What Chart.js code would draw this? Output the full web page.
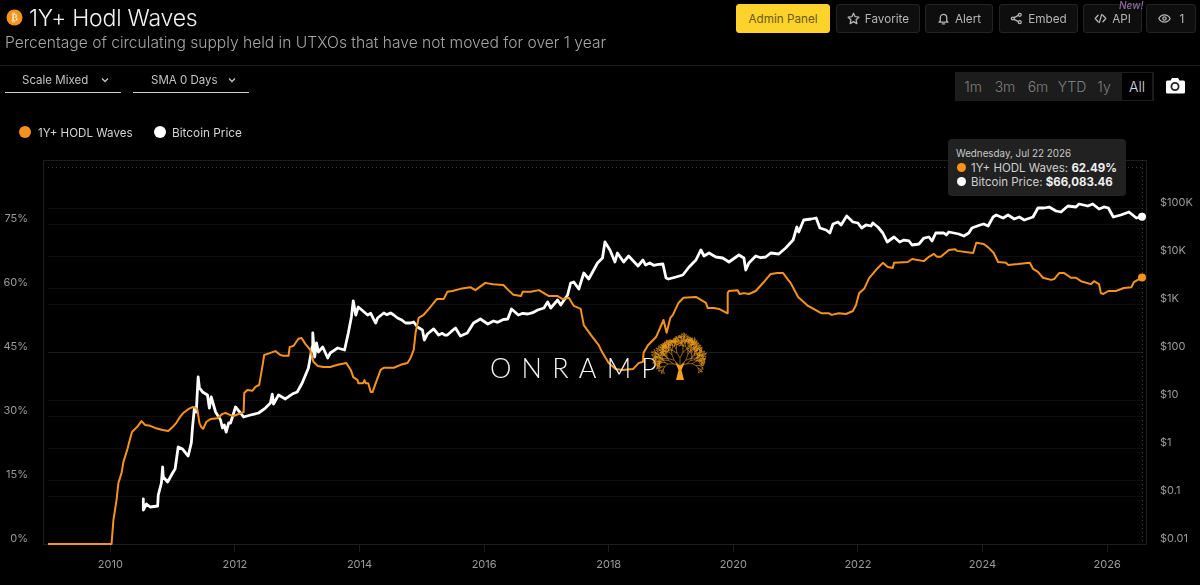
<!DOCTYPE html>
<html>
<head>
<meta charset="utf-8">
<title>1Y+ Hodl Waves</title>
<script src="https://cdn.jsdelivr.net/npm/chart.js@4/dist/chart.umd.min.js"></script>
<style>
  html, body { margin: 0; background: #000; width: 1200px; height: 585px; overflow: hidden; font-family: Inter, sans-serif; color: #fff; }
  #mainChart { position: absolute; left: 0; top: 0; }
  .abs { position: absolute; white-space: nowrap; }
  .btn { position: absolute; top: 4px; height: 27px; border: 1px solid #232323; border-radius: 3px; background: #0e0e0e; color: #b5b5b5; font-size: 11.7px; display: flex; align-items: center; justify-content: center; gap: 5px; box-sizing: content-box; }
  .btn svg { width: 13px; height: 13px; fill: none; stroke: #b5b5b5; stroke-width: 1.6; stroke-linecap: round; stroke-linejoin: round; }
  .select { position: absolute; top: 66px; height: 26px; width: 116px; border-bottom: 1px solid #cfcfcf; font-size: 11.5px; color: #c4c4c4; line-height: 27px; }
  .select span { position: absolute; top: 1px; }
  .select svg { position: absolute; top: 11px; width: 8px; height: 6px; fill: none; stroke: #c4c4c4; stroke-width: 1.3; }
  .range span { position: absolute; top: 0; height: 28px; line-height: 29px; color: #7f7f7f; font-size: 14px; text-align: center; font-weight: 300; }
  .dot { position: absolute; border-radius: 50%; }
</style>
</head>
<body>
<canvas id="mainChart" width="1200" height="585"></canvas>

<!-- header -->
<svg class="abs" style="left:5px;top:8px" width="19" height="19" viewBox="0 0 19 19"><circle cx="9.5" cy="9.5" r="8" fill="#f7931a"/><text x="9.5" y="13" font-size="10" font-weight="700" text-anchor="middle" fill="#ffe3bd" font-family="DejaVu Sans">₿</text></svg>
<div class="abs" style="left:29px;top:2px;font-size:23px;font-weight:300;line-height:32px;color:#f2f2f2;letter-spacing:-0.2px">1Y+ Hodl Waves</div>
<div class="abs" style="left:5px;top:32px;font-size:15.6px;font-weight:300;line-height:22px;color:#a6a6a6">Percentage of circulating supply held in UTXOs that have not moved for over 1 year</div>
<div class="abs" style="left:0;top:65px;width:1200px;height:1px;background:#1b1b1b"></div>

<div class="btn" style="left:736px;width:92px;background:#fdd22b;border-color:#fdd22b;color:#6b5a12;border-radius:3px">Admin Panel</div>
<div class="btn" style="left:836px;width:82px"><svg viewBox="0 0 16 16"><path d="M8 1.5l2 4.3 4.6.6-3.4 3.2.9 4.7L8 11.9l-4.1 2.4.9-4.7L1.400 6.4 6 5.800z"/></svg>Favorite</div>
<div class="btn" style="left:925px;width:66px"><svg viewBox="0 0 16 16"><path d="M4 11V7a4 4 0 0 1 8 0v4l1.500 1.500h-11zM6.500 14.500h3"/></svg>Alert</div>
<div class="btn" style="left:999px;width:77px"><svg viewBox="0 0 16 16"><circle cx="12" cy="3.500" r="1.800"/><circle cx="12" cy="12.500" r="1.800"/><circle cx="3.500" cy="8" r="1.800"/><path d="M5 7l5.400-2.800M5 9l5.400 2.800"/></svg>Embed</div>
<div class="btn" style="left:1083px;width:57px"><svg viewBox="0 0 16 16"><path d="M5 4L1.500 8 5 12M11 4l3.500 4L11 12M9.500 3l-3 10"/></svg>API</div>
<div class="btn" style="left:1146px;width:48px;gap:9px"><svg viewBox="0 0 16 16"><path d="M1 8s2.500-4.500 7-4.500S15 8 15 8s-2.500 4.500-7 4.500S1 8 1 8z"/><circle cx="8" cy="8" r="2"/></svg>1</div>
<div class="abs" style="left:1119px;top:0;font-size:10px;font-style:italic;font-weight:500;color:#8a6a9a;line-height:11px">New!</div>

<!-- controls -->
<div class="select" style="left:5px"><span style="left:17px">Scale Mixed</span><svg style="left:96px" viewBox="0 0 8 6"><path d="M1 1.500l3 3 3-3"/></svg></div>
<div class="select" style="left:133px"><span style="left:18px">SMA 0 Days</span><svg style="left:95px" viewBox="0 0 8 6"><path d="M1 1.500l3 3 3-3"/></svg></div>

<div class="abs range" style="left:955px;top:72px;width:199px;height:29px;background:#1c1c1c">
  <span style="left:4px;width:28px">1m</span>
  <span style="left:36px;width:28px">3m</span>
  <span style="left:69px;width:28px">6m</span>
  <span style="left:102px;width:30px">YTD</span>
  <span style="left:135px;width:28px">1y</span>
  <span style="left:167px;width:30px;top:1px;height:27px;line-height:27px;background:#000;color:#d8d8d8">All</span>
</div>
<svg class="abs" style="left:1164px;top:76px" width="22" height="20" viewBox="0 0 22 20"><path d="M2.500 4.500h4l1.500-2.500h6l1.500 2.500h4a1.500 1.500 0 0 1 1.500 1.500v10a1.500 1.500 0 0 1-1.500 1.500h-16a1.500 1.500 0 0 1-1.500-1.500V6a1.500 1.500 0 0 1 1.500-1.500z" fill="#fff"/><circle cx="11" cy="10.500" r="3.600" fill="none" stroke="#222" stroke-width="1.800"/></svg>

<!-- legend -->
<div class="dot" style="left:19px;top:126px;width:12px;height:12px;background:#f7931a"></div>
<div class="abs" style="left:38px;top:126px;font-size:11.6px;line-height:15px;color:#d4d4d4">1Y+ HODL Waves</div>
<div class="dot" style="left:154px;top:126px;width:12px;height:12px;background:#fff"></div>
<div class="abs" style="left:172px;top:126px;font-size:11.8px;line-height:15px;color:#d4d4d4">Bitcoin Price</div>

<!-- watermark -->
<div class="abs" style="left:490px;top:353px;font-family:Lato,sans-serif;font-size:27px;font-weight:300;letter-spacing:10.200px;line-height:30px;color:#f4f4f4">ONRAMP</div>
<svg id="tree" class="abs" style="left:648px;top:328px" width="62" height="56" viewBox="0 0 62 56"></svg>

<!-- tooltip -->
<div class="abs" style="left:948px;top:139px;width:178px;height:57px;background:#212121;border-radius:4px"></div>
<div class="abs" style="left:956px;top:147px;font-size:9.8px;line-height:13px;color:#c9c9c9">Wednesday, Jul 22 2026</div>
<div class="dot" style="left:957px;top:163px;width:9px;height:9px;background:#f7931a"></div>
<div class="abs" style="left:971px;top:161px;font-size:11.5px;line-height:15px;color:#cfcfcf">1Y+ HODL Waves: <b style="color:#efefef">62.49%</b></div>
<div class="dot" style="left:957px;top:177px;width:9px;height:9px;background:#fff"></div>
<div class="abs" style="left:971px;top:175px;font-size:11.5px;line-height:15px;color:#cfcfcf">Bitcoin Price: <b style="color:#efefef">$66,083.46</b></div>

<script>
// === Data ===
const hodlDates = [2009,2010.02,2010.05,2010.1,2010.13,2010.18,2010.21,2010.27,2010.32,2010.35,2010.43,2010.5,2010.56,2010.64,2010.72,2010.84,2010.93,2011,2011.06,2011.12,2011.17,2011.25,2011.32,2011.37,2011.4,2011.43,2011.46,2011.49,2011.54,2011.61,2011.72,2011.8,2011.85,2011.93,2011.98,2012.14,2012.15,2012.2,2012.28,2012.33,2012.39,2012.44,2012.47,2012.57,2012.65,2012.73,2012.78,2012.86,2012.88,2012.94,2013.02,2013.07,2013.13,2013.21,2013.26,2013.33,2013.42,2013.53,2013.65,2013.79,2013.86,2013.9,2013.97,2013.98,2014.06,2014.08,2014.1,2014.14,2014.18,2014.21,2014.26,2014.34,2014.39,2014.55,2014.66,2014.77,2014.82,2014.87,2014.9,2014.95,2015.03,2015.14,2015.24,2015.35,2015.41,2015.49,2015.62,2015.78,2015.86,2016.02,2016.14,2016.31,2016.39,2016.47,2016.59,2016.62,2016.75,2016.88,2016.96,2017.04,2017.18,2017.26,2017.36,2017.44,2017.55,2017.6,2017.74,2017.84,2017.9,2018,2018.11,2018.22,2018.39,2018.48,2018.55,2018.56,2018.63,2018.76,2018.88,2018.93,2018.99,2019.03,2019.12,2019.2,2019.4,2019.48,2019.56,2019.59,2019.69,2019.77,2019.9,2019.91,2019.93,2020.07,2020.1,2020.17,2020.25,2020.36,2020.49,2020.6,2020.71,2020.8,2020.88,2020.92,2021.04,2021.2,2021.41,2021.53,2021.58,2021.69,2021.81,2021.92,2021.97,2022.02,2022.1,2022.18,2022.32,2022.4,2022.48,2022.56,2022.58,2022.8,2022.87,2023.06,2023.14,2023.22,2023.27,2023.33,2023.46,2023.56,2023.59,2023.85,2023.9,2024.02,2024.1,2024.18,2024.25,2024.38,2024.41,2024.57,2024.76,2024.81,2024.89,2024.97,2025.1,2025.15,2025.23,2025.31,2025.42,2025.5,2025.58,2025.74,2025.79,2025.87,2025.9,2025.94,2026.02,2026.14,2026.27,2026.39,2026.43,2026.56];
const hodlValues = [0,0,5.6,10.3,14.3,16.6,19.2,22,24.8,26.3,27.4,28.8,27.9,27.7,27.2,26.7,26.5,27.4,28.4,29.8,30.7,31.6,32.1,31.9,31.4,28.4,27.4,27,28.6,29.3,29.5,30.5,30.7,30.2,30,30.9,35.4,36.1,35.9,36.8,37.3,41.5,44.3,44.8,45.2,44.3,44.1,44.1,46.2,46.4,48.1,48.3,46.9,45.5,42.7,41.7,41.5,41.5,42,42.4,40.8,39.1,38.4,37.7,37.7,38.4,37.7,37.7,35.6,35.6,37.7,40.8,41.3,41.3,42,42.4,43.6,45.5,49.5,53,53.7,55.6,57.4,57.4,59.1,59.3,59.8,60.2,59.5,61.2,60.9,60.7,59.5,58.4,58.1,59.1,59.1,59.5,58.8,58.1,58.1,57.4,57.7,55.8,55.1,51.3,48.5,46.6,44.8,42.4,41,40.8,41,42.4,42.7,44.8,46.6,48.5,52.5,49.5,53,53.7,56.5,57.7,57.9,57.2,56.5,55.3,55.3,55.1,54.1,58.8,59.3,59.5,58.6,58.8,58.6,59.3,61.4,63.3,63.5,63.5,61.9,61.2,57.9,55.8,54.1,54.1,53.7,54.1,53.9,54.6,56,58.8,59.8,62.3,64.7,65.9,64.9,64.7,65.9,66.1,66.8,66.3,67.3,68,67.3,67.3,68.9,69.1,68.7,68.2,70.6,70.3,69.4,68.2,66.1,65.9,65.4,65.6,65.9,64.5,63.8,62.4,61.9,62.1,63.5,63.5,62.4,62.4,61.6,60.9,61.6,60.9,58.8,58.6,59.3,59.3,60,60.2,61.4,62.49];

const priceDates = [2010.53,2010.53,2010.58,2010.64,2010.76,2010.77,2010.82,2010.84,2010.85,2010.92,2011,2011.04,2011.09,2011.16,2011.25,2011.3,2011.32,2011.35,2011.38,2011.41,2011.43,2011.48,2011.56,2011.59,2011.62,2011.69,2011.77,2011.8,2011.83,2011.86,2011.9,2011.93,2012.01,2012.09,2012.14,2012.25,2012.31,2012.38,2012.49,2012.57,2012.6,2012.62,2012.7,2012.81,2012.92,2013,2013.08,2013.18,2013.24,2013.25,2013.28,2013.31,2013.34,2013.41,2013.49,2013.53,2013.65,2013.76,2013.82,2013.87,2013.9,2013.94,2013.98,2014.13,2014.18,2014.22,2014.26,2014.29,2014.39,2014.44,2014.5,2014.55,2014.61,2014.67,2014.74,2014.82,2014.87,2014.93,2015.01,2015.04,2015.09,2015.19,2015.27,2015.33,2015.37,2015.41,2015.47,2015.54,2015.62,2015.73,2015.83,2015.94,2016.06,2016.15,2016.22,2016.3,2016.38,2016.44,2016.55,2016.62,2016.7,2016.78,2016.86,2016.96,2017.02,2017.07,2017.18,2017.23,2017.34,2017.39,2017.44,2017.52,2017.6,2017.68,2017.82,2017.9,2017.94,2018.02,2018.1,2018.14,2018.24,2018.32,2018.47,2018.55,2018.59,2018.66,2018.72,2018.8,2018.87,2018.92,2018.96,2019.08,2019.19,2019.29,2019.4,2019.48,2019.53,2019.61,2019.72,2019.83,2019.93,2020.09,2020.17,2020.2,2020.25,2020.36,2020.44,2020.52,2020.6,2020.73,2020.84,2020.96,2021.02,2021.05,2021.13,2021.25,2021.33,2021.39,2021.49,2021.55,2021.6,2021.68,2021.73,2021.82,2021.92,2022,2022.06,2022.13,2022.21,2022.24,2022.32,2022.4,2022.47,2022.58,2022.67,2022.74,2022.82,2022.87,2022.98,2023.06,2023.14,2023.19,2023.25,2023.38,2023.42,2023.46,2023.62,2023.7,2023.78,2023.83,2023.96,2024.02,2024.09,2024.17,2024.22,2024.33,2024.41,2024.51,2024.59,2024.67,2024.81,2024.89,2024.99,2025.07,2025.18,2025.26,2025.37,2025.5,2025.55,2025.69,2025.77,2025.87,2025.95,2026.02,2026.1,2026.22,2026.35,2026.47,2026.56];
const priceValues = [0.0866,0.0511,0.0681,0.059,0.0619,0.105,0.1866,0.402,0.2488,0.1957,0.3015,0.365,1.049,0.953,0.681,1.27,2.74,6.81,5.62,30.15,17.8,14.7,12.7,6.81,11.55,5.62,3.83,2.61,3.015,2.15,3.32,3.32,7.15,5.36,4.43,4.87,5.1,5.36,6.81,8.66,13.3,8.25,12.7,10.5,13.3,14.7,22.6,46.4,127,249,78.7,154,100,127,75,95.3,121,110,249,536,1155,590,866,590,640,500,402,511,649,600,649,590,511,470,402,402,422,332,287,178,237,302,226,245,225,226,265,316,215,249,402,487,383,443,415,470,487,787,590,640,619,660,750,825,1101,825,1212,953,1540,2738,2873,2054,4425,3318,7148,9085,19570,13340,7499,11550,7499,10000,6190,8254,6494,7148,6400,6700,6813,3481,3318,3652,4020,5900,8254,13340,10000,11550,9532,9085,7499,10490,9085,5109,7148,10000,9200,9532,11550,11010,14680,21540,40200,31620,56230,59000,61900,38310,34810,30150,46420,51090,44250,68130,51090,48700,38310,44250,42170,48700,40200,30150,19570,24880,19570,21500,20540,16950,17780,23710,24880,20540,30150,30150,27500,31620,28730,26100,30150,38310,44250,46420,42170,64940,71480,61900,71480,59000,64940,56230,64940,100000,100000,104900,86600,82540,110100,104900,121200,110100,121200,95320,105000,100000,64940,71480,82540,61900,66083.46];

const yearTicks = [2010,2012,2014,2016,2018,2020,2022,2024,2026];
const percentTicks = [0,15,30,45,60,75];
const priceTicks = [0.01,0.1,1,10,100,1000,10000,100000];
const priceTickLabels = ["$0.01","$0.1","$1","$10","$100","$1K","$10K","$100K"];

// hover position of the crosshair in the screenshot
const cursorDate = 2026.56;
const cursorPercent = 88.4;

const gridColor = "rgba(255,255,255,0.055)";
const frameColor = "#1d1d1d";
const tickColor = "#9b9b9b";
const tickFont = { family: "Inter", size: 11 };

const toPoints = (xs, ys) => xs.map((x, i) => ({ x: x, y: ys[i] }));
const lastOnly = (size) => (c) => (c.dataIndex === c.dataset.data.length - 1 ? size : 0);

// === Outer frame and dotted crosshair, drawn behind the lines ===
const framePlugin = {
  id: "frame",
  beforeDatasetsDraw(chart) {
    const { ctx, chartArea: a, scales } = chart;
    ctx.save();
    ctx.strokeStyle = frameColor;
    ctx.lineWidth = 1;
    ctx.strokeRect(a.left - 4.5, a.top + 0.5, a.width + 9, a.height);

    ctx.strokeStyle = "#3a3d55";
    ctx.setLineDash([1, 3]);
    const cy = Math.round(scales.yPercent.getPixelForValue(cursorPercent)) + 0.5;
    const cx = Math.round(scales.x.getPixelForValue(cursorDate)) + 0.5;
    ctx.beginPath();
    ctx.moveTo(a.left, cy);
    ctx.lineTo(a.right, cy);
    ctx.moveTo(cx, a.top);
    ctx.lineTo(cx, a.bottom);
    ctx.stroke();
    ctx.restore();
  }
};

// === Main chart ===
new Chart(document.getElementById("mainChart").getContext("2d"), {
  type: "line",
  data: {
    datasets: [
      {
        label: "1Y+ HODL Waves",
        data: toPoints(hodlDates, hodlValues),
        yAxisID: "yPercent",
        borderColor: "#f7931a",
        backgroundColor: "#f7931a",
        borderWidth: 2,
        borderJoinStyle: "round",
        pointRadius: lastOnly(4),
        pointBorderWidth: 0,
        clip: false,
        tension: 0
      },
      {
        label: "Bitcoin Price",
        data: toPoints(priceDates, priceValues),
        yAxisID: "yPrice",
        borderColor: "#ffffff",
        backgroundColor: "#ffffff",
        borderWidth: 2.8,
        borderJoinStyle: "round",
        pointRadius: lastOnly(4),
        pointBorderWidth: 0,
        clip: false,
        tension: 0
      }
    ]
  },
  options: {
    responsive: false,
    animation: false,
    events: [],
    layout: { padding: { top: 160 } },
    plugins: { legend: { display: false }, tooltip: { enabled: false } },
    scales: {
      x: {
        type: "linear",
        min: 2009,
        max: 2026.56,
        afterFit: (s) => { s.height = 41; },
        afterBuildTicks: (s) => { s.ticks = yearTicks.map((v) => ({ value: v })); },
        grid: { drawOnChartArea: false, color: frameColor, tickLength: 8 },
        border: { display: false },
        ticks: { color: tickColor, font: tickFont, padding: 6, maxRotation: 0, autoSkip: false, callback: (v) => String(v) }
      },
      yPercent: {
        type: "linear",
        position: "left",
        min: 0,
        max: 90,
        afterFit: (s) => { s.width = 48; },
        afterBuildTicks: (s) => { s.ticks = percentTicks.map((v) => ({ value: v })); },
        grid: { color: gridColor, drawTicks: false },
        border: { display: false },
        ticks: { color: tickColor, font: tickFont, padding: 20, labelOffset: -5, autoSkip: false, callback: (v) => v + "%" }
      },
      yPrice: {
        type: "logarithmic",
        position: "right",
        min: 0.01,
        max: 1000000,
        afterFit: (s) => { s.width = 58; },
        afterBuildTicks: (s) => { s.ticks = priceTicks.map((v) => ({ value: v })); },
        grid: { color: gridColor, drawTicks: false },
        border: { display: false },
        ticks: { color: tickColor, font: tickFont, padding: 18, labelOffset: -5, autoSkip: false,
          callback: (v) => priceTickLabels[priceTicks.indexOf(v)] }
      }
    }
  },
  plugins: [framePlugin]
});

// === Tree of the watermark ===
const tree = document.getElementById("tree");
let treePath = "";
function branch(x, y, angle, len, depth) {
  const x2 = x + Math.cos(angle) * len;
  const y2 = y + Math.sin(angle) * len;
  treePath += "M" + x.toFixed(1) + " " + y.toFixed(1) + "L" + x2.toFixed(1) + " " + y2.toFixed(1);
  if (depth === 0) return;
  const spread = 0.36 + (depth % 3) * 0.1;
  branch(x2, y2, angle - spread, len * (depth % 2 ? 0.8 : 0.72), depth - 1);
  branch(x2, y2, angle + spread * 0.85, len * (depth % 2 ? 0.72 : 0.8), depth - 1);
}
branch(32, 38, -Math.PI / 2, 8, 8);
branch(32, 38, -Math.PI / 2 - 0.8, 8, 7);
branch(32, 38, -Math.PI / 2 + 0.8, 8, 7);
branch(32, 38, -Math.PI / 2 - 1.25, 7, 6);
branch(32, 38, -Math.PI / 2 + 1.25, 7, 6);
tree.innerHTML =
  '<path d="' + treePath + '" fill="none" stroke="#eb9c1e" stroke-width="0.6"/>' +
  '<path d="M28 52 L30.500 42 L27 34 L32 38 L37 34 L33.500 42 L36 52 Z" fill="#f0a020"/>';
</script>
</body>
</html>
